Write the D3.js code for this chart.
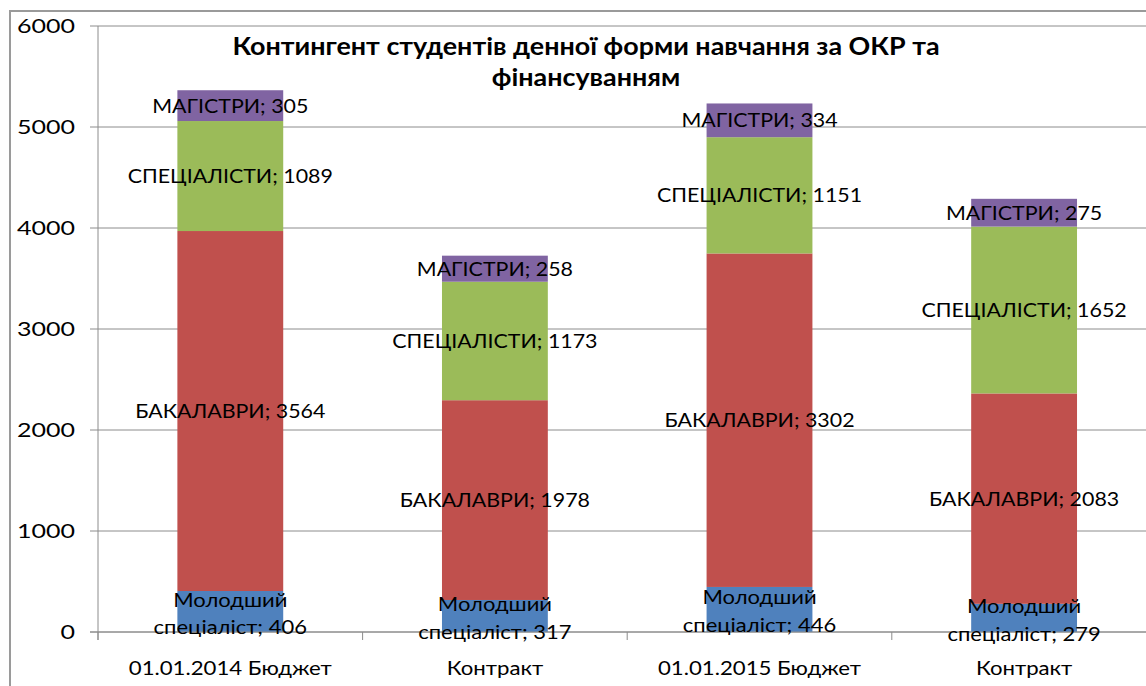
<!DOCTYPE html>
<html lang="uk">
<head>
<meta charset="UTF-8">
<title>Контингент студентів</title>
<script src="https://d3js.org/d3.v7.min.js"></script>
<style>
  body { margin: 0; background: #fff; }
  text { font-family: Lato, "Open Sans", sans-serif; fill: #000; }
  .grid line { stroke: #8c8c8c; stroke-width: 1px; }
</style>
</head>
<body>
<div id="chart"></div>
<script>
// categories and series
const categories = ["01.01.2014 Бюджет", "Контракт", "01.01.2015 Бюджет", "Контракт "];
const seriesNames = ["Молодший спеціаліст", "БАКАЛАВРИ", "СПЕЦІАЛІСТИ", "МАГІСТРИ"];
const molodshyi = [406, 317, 446, 279];
const bakalavry = [3564, 1978, 3302, 2083];
const specialisty = [1089, 1173, 1151, 1652];
const magistry = [305, 258, 334, 275];
const yTicks = [0, 1000, 2000, 3000, 4000, 5000, 6000];
const colors = ["#4f81bd", "#c0504d", "#9bbb59", "#8064a2"];

const W = 1146, H = 686;
const svg = d3.select("#chart").append("svg").attr("width", W).attr("height", H);

// the source picture is stretched sideways, so text gets a horizontal scale
function label(parent, px, py, sx, size) {
  return parent.append("text")
    .attr("transform", `translate(${px},${py}) scale(${sx},1)`)
    .style("font-size", size + "px");
}

// outer chart border
svg.append("rect").attr("x", 10).attr("y", 11).attr("width", W).attr("height", H)
  .attr("fill", "none").attr("stroke", "#9a9a9a").attr("stroke-width", 2);

const plotLeft = 98, plotTop = 26, plotBottom = 632, catW = 264.6;
const x = d3.scaleBand().domain(categories)
  .range([plotLeft, plotLeft + catW * categories.length])
  .paddingInner(0.6).paddingOuter(0.3);
const y = d3.scaleLinear().domain([0, 6000]).range([plotBottom, plotTop]);

// grid lines
svg.append("g").attr("class", "grid")
  .selectAll("line").data(yTicks).join("line")
  .attr("x1", plotLeft - 8).attr("x2", W)
  .attr("y1", d => y(d)).attr("y2", d => y(d));

// y labels
const yg = svg.append("g");
yTicks.forEach(t => {
  label(yg, 75, y(t), 1.25, 20).attr("dy", "0.35em").attr("text-anchor", "end").text(t);
});

// stacked data
const rows = categories.map((c, i) => ({
  cat: c, v: [molodshyi[i], bakalavry[i], specialisty[i], magistry[i]]
}));
const stack = d3.stack().keys([0, 1, 2, 3]).value((d, k) => d.v[k]);
const layers = stack(rows);

layers.forEach((layer, k) => {
  svg.append("g").selectAll("rect").data(layer).join("rect")
    .attr("x", d => x(d.data.cat))
    .attr("width", x.bandwidth())
    .attr("y", d => y(d[1]))
    .attr("height", d => y(d[0]) - y(d[1]))
    .attr("fill", colors[k]);
});

// axes lines on top of bars
svg.append("line").attr("x1", plotLeft).attr("x2", plotLeft).attr("y1", plotTop).attr("y2", plotBottom + 8)
  .attr("stroke", "#8c8c8c");
svg.append("line").attr("x1", plotLeft - 8).attr("x2", W).attr("y1", plotBottom).attr("y2", plotBottom)
  .attr("stroke", "#8c8c8c");
svg.append("g").selectAll("line").data(d3.range(categories.length + 1)).join("line")
  .attr("x1", i => plotLeft + i * catW).attr("x2", i => plotLeft + i * catW)
  .attr("y1", plotBottom).attr("y2", plotBottom + 8).attr("stroke", "#8c8c8c");

// x labels
const xg = svg.append("g");
categories.forEach(c => {
  label(xg, x(c) + x.bandwidth() / 2, 668, 1.11, 20)
    .attr("dy", "0.35em").attr("text-anchor", "middle").text(c.trim());
});

// data labels
layers.forEach((layer, k) => {
  const g = svg.append("g");
  layer.forEach(d => {
    const cx = x(d.data.cat) + x.bandwidth() / 2;
    const cy = (y(d[0]) + y(d[1])) / 2;
    const val = d.data.v[k];
    if (k === 0) {
      const t = label(g, cx, cy, 1.1, 20).attr("text-anchor", "middle");
      t.append("tspan").attr("x", 0).attr("y", -12).attr("dy", "0.35em").text("Молодший");
      t.append("tspan").attr("x", 0).attr("y", 16).attr("dy", "0.35em").text("спеціаліст; " + val);
    } else {
      label(g, cx, cy, 1.07, 20).attr("dy", "0.35em").attr("text-anchor", "middle")
        .text(seriesNames[k] + "; " + val);
    }
  });
});

// title
const tg = svg.append("g").style("font-weight", "bold");
label(tg, 586, 47, 1.12, 24).attr("dy", "0.35em").attr("text-anchor", "middle")
  .text("Контингент студентів денної форми навчання за ОКР та");
label(tg, 586, 78, 1.12, 24).attr("dy", "0.35em").attr("text-anchor", "middle")
  .text("фінансуванням");
</script>
</body>
</html>
